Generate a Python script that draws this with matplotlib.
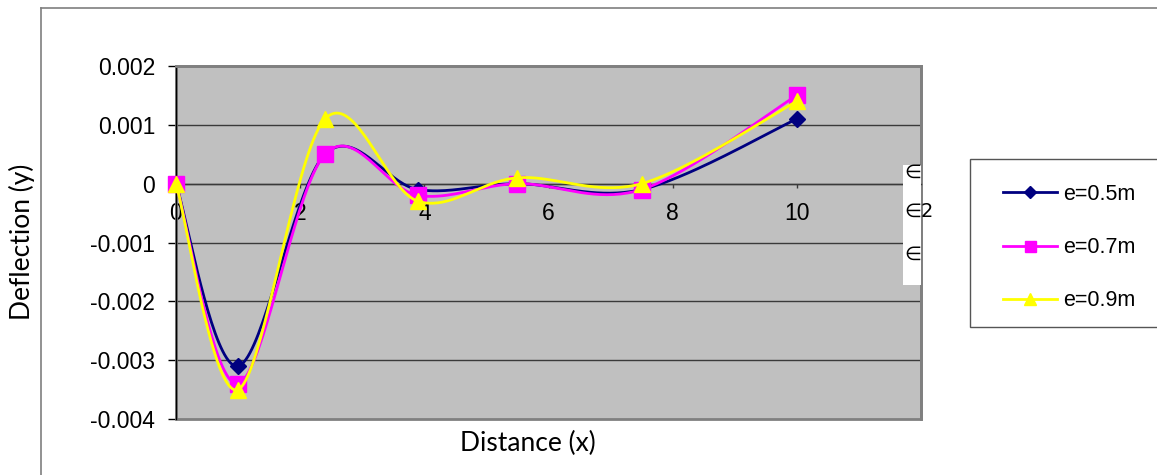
import numpy as np
import matplotlib
matplotlib.use("Agg")
import matplotlib.pyplot as plt
from matplotlib.patches import Rectangle
from matplotlib.lines import Line2D

# data
distance = [0, 1, 2.4, 3.9, 5.5, 7.5, 10]
defl_05 = [0, -0.0031, 0.0005, -0.0001, 0.0, -0.0001, 0.0011]
defl_07 = [0, -0.0034, 0.0005, -0.0002, 0.0, -0.0001, 0.0015]
defl_09 = [0, -0.0035, 0.0011, -0.0003, 0.0001, 0.0, 0.0014]
labels = ["e=0.5m", "e=0.7m", "e=0.9m"]
x_ticks = [0, 2, 4, 6, 8, 10]
y_ticks = [-0.004, -0.003, -0.002, -0.001, 0, 0.001, 0.002]
y_ticklabels = ["-0.004", "-0.003", "-0.002", "-0.001", "0", "0.001", "0.002"]


def smooth(xs, ys, n=40):
    # excel-like smoothed line: bezier segments with catmull-rom control points
    p = np.column_stack([xs, ys]).astype(float)
    p = np.vstack([p[0], p, p[-1]])
    out = []
    for i in range(1, len(p) - 2):
        p0, p1, p2, p3 = p[i - 1], p[i], p[i + 1], p[i + 2]
        c1 = p1 + (p2 - p0) / 6
        c2 = p2 - (p3 - p1) / 6
        t = np.linspace(0, 1, n)[:, None]
        seg = ((1 - t) ** 3) * p1 + 3 * ((1 - t) ** 2) * t * c1 + 3 * (1 - t) * t ** 2 * c2 + t ** 3 * p2
        out.append(seg)
    out = np.vstack(out)
    return out[:, 0], out[:, 1]


W, H = 1157, 475
fig = plt.figure(figsize=(W / 100, H / 100), dpi=100)
fig.patch.set_facecolor("white")

# outer chart frame (left and top edges visible)
fig.add_artist(Line2D([41 / W, 41 / W], [0, 1 - 8 / H], color="#7f7f7f", lw=1.2))
fig.add_artist(Line2D([41 / W, 1], [1 - 8 / H, 1 - 8 / H], color="#7f7f7f", lw=1.2))

ax = fig.add_axes([176 / W, 1 - 419 / H, (921 - 176) / W, (419 - 66) / H])
ax.set_facecolor("#c0c0c0")
ax.set_xlim(0, 12)
ax.set_ylim(-0.004, 0.002)

for yv in y_ticks[1:-1]:
    ax.axhline(yv, color="#3a3a3a", lw=1.0, zorder=1)

styles = [
    (defl_05, "#000080", "D", 8),
    (defl_07, "#ff00ff", "s", 11),
    (defl_09, "#ffff00", "^", 12),
]
handles = []
for k, (vals, col, mk, ms) in enumerate(styles):
    sx, sy = smooth(distance, vals)
    ax.plot(sx, sy, color=col, lw=2.0, zorder=3 + k)
    ax.plot(distance, vals, ls="none", marker=mk, ms=ms, color=col, mec=col,
            zorder=3 + k, clip_on=False)
    handles.append(Line2D([], [], color=col, lw=2.0, marker=mk, ms=ms * 0.72, mec=col))

for side in ["top", "right"]:
    ax.spines[side].set_color("#808080")
    ax.spines[side].set_linewidth(2.0)
ax.spines["left"].set_color("black")
ax.spines["left"].set_linewidth(1.0)
ax.spines["bottom"].set_position(("data", 0))
ax.spines["bottom"].set_color("#3a3a3a")
ax.spines["bottom"].set_linewidth(1.0)
ax.add_patch(Rectangle((0, 0), 1, 1, transform=ax.transAxes, fill=False,
                       edgecolor="#808080", lw=2.0, zorder=2, clip_on=False))

ax.set_xticks(x_ticks)
ax.set_xticklabels([str(v) for v in x_ticks])
ax.set_yticks(y_ticks)
ax.set_yticklabels(y_ticklabels)
ax.tick_params(axis="y", direction="out", length=6, width=1, pad=9,
               labelsize=16.5, labelfontfamily="Liberation Sans")
ax.tick_params(axis="x", direction="out", length=3, width=1, pad=10,
               labelsize=16.5, labelfontfamily="Liberation Sans", color="#3a3a3a")

fig.text(22 / W, 1 - 242 / H, "Deflection (y)", rotation=90, ha="center", va="center",
         fontsize=19, family="Lato")
fig.text(528 / W, 1 - 443 / H, "Distance (x)", ha="center", va="center",
         fontsize=19, family="Lato")

# white box with stray symbols at right edge of plot
fig.add_artist(Rectangle((903 / W, 1 - 285 / H), 18 / W, 120 / H, transform=fig.transFigure,
                         facecolor="white", edgecolor="none", zorder=20))
for ty, s in [(172, "\u2208"), (211, "\u22082"), (254, "\u2208")]:
    fig.text(904 / W, 1 - ty / H, s, ha="left", va="center", fontsize=14,
             family="DejaVu Sans", zorder=21)

# legend box
fig.add_artist(Rectangle((970 / W, 1 - 327 / H), 200 / W, 168 / H, transform=fig.transFigure,
                         facecolor="white", edgecolor="#555555", lw=1.0, zorder=5))
leg = fig.legend(handles, labels, loc="upper left", bbox_to_anchor=(992 / W, 1 - 173 / H),
                 frameon=False, prop={"family": "Liberation Sans", "size": 15.5},
                 handlelength=2.5, handletextpad=0.3, labelspacing=1.5, borderpad=0)
leg.set_zorder(6)

fig.savefig("out.png", dpi=100)
